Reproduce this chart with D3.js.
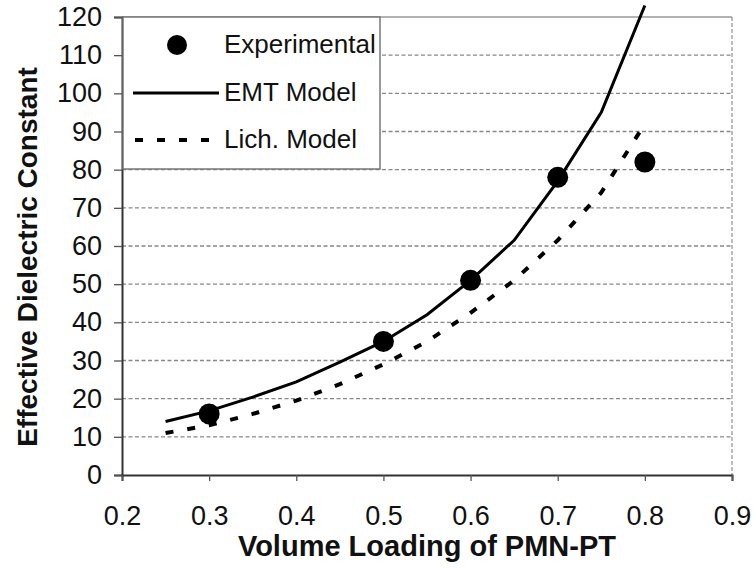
<!DOCTYPE html>
<html>
<head>
<meta charset="utf-8">
<script src="https://cdn.jsdelivr.net/npm/d3@7"></script>
<style>
  html, body { margin: 0; padding: 0; background: #fff; }
  svg { display: block; }
  text { font-family: "Liberation Sans", Arial, sans-serif; fill: #111; }
</style>
</head>
<body>
<svg id="chart" width="754" height="569"></svg>
<script>
// ---- data ----
const expX = [0.3, 0.5, 0.6, 0.7, 0.8];
const expY = [16, 35, 51, 78, 82];

const emtX = [0.25, 0.3, 0.35, 0.4, 0.45, 0.5, 0.55, 0.6, 0.65, 0.7, 0.75, 0.8];
const emtY = [14, 16.8, 20.4, 24.4, 29.6, 35, 42, 51, 61.5, 77, 95, 123];

const lichX = [0.25, 0.3, 0.35, 0.4, 0.45, 0.5, 0.55, 0.6, 0.65, 0.7, 0.75, 0.8];
const lichY = [11, 13, 16, 19.5, 23.8, 29, 35, 42.5, 51, 61.5, 74, 92];

const xTicks = [0.2, 0.3, 0.4, 0.5, 0.6, 0.7, 0.8, 0.9];
const yTicks = [0, 10, 20, 30, 40, 50, 60, 70, 80, 90, 100, 110, 120];
const legendLabels = ["Experimental", "EMT Model", "Lich. Model"];
const xTitle = "Volume Loading of PMN-PT";
const yTitle = "Effective Dielectric Constant";

// ---- layout ----
const W = 754, H = 569;
const m = { left: 122, top: 17, right: 22, bottom: 94 };
const iw = W - m.left - m.right, ih = H - m.top - m.bottom;

const svg = d3.select("#chart");
const g = svg.append("g").attr("transform", `translate(${m.left},${m.top})`);

const x = d3.scaleLinear().domain([0.2, 0.9]).range([0, iw]);
const y = d3.scaleLinear().domain([0, 120]).range([ih, 0]);

// gridlines
g.append("g").selectAll("line")
  .data(yTicks.filter(v => v > 0 && v < 120))
  .join("line")
  .attr("x1", 0).attr("x2", iw)
  .attr("y1", d => y(d)).attr("y2", d => y(d))
  .attr("stroke", "#888").attr("stroke-width", 1.3)
  .attr("stroke-dasharray", "4,2.5");

// top border & right border
g.append("line").attr("x1", 0).attr("x2", iw).attr("y1", 0).attr("y2", 0)
  .attr("stroke", "#999").attr("stroke-width", 1.3);
g.append("line").attr("x1", iw).attr("x2", iw).attr("y1", 0).attr("y2", ih)
  .attr("stroke", "#999").attr("stroke-width", 1.3).attr("stroke-dasharray", "4,2");

// axes
const yAxis = d3.axisLeft(y).tickValues(yTicks).tickSize(8).tickPadding(12).tickFormat(d3.format("d"));
const xAxis = d3.axisBottom(x).tickValues(xTicks).tickSize(6).tickPadding(25).tickFormat(d3.format(".1f"));

const ya = g.append("g").call(yAxis);
const xa = g.append("g").attr("transform", `translate(0,${ih})`).call(xAxis);
[ya, xa].forEach(a => {
  a.select(".domain").attr("stroke", "#333").attr("stroke-width", 2);
  a.selectAll(".tick line").attr("stroke", "#555").attr("stroke-width", 1.3);
  a.selectAll(".tick text").attr("font-size", 27).attr("fill", "#222")
    .attr("font-family", "'Liberation Sans', Arial, sans-serif");
});

// lines
const lineGen = d3.line().x(d => x(d[0])).y(d => y(d[1]));
g.append("path")
  .datum(lichX.map((v, i) => [v, lichY[i]]))
  .attr("d", lineGen).attr("fill", "none")
  .attr("stroke", "#000").attr("stroke-width", 4)
  .attr("stroke-dasharray", "8,14");
g.append("path")
  .datum(emtX.map((v, i) => [v, emtY[i]]))
  .attr("d", lineGen).attr("fill", "none")
  .attr("stroke", "#000").attr("stroke-width", 3);

// markers
g.append("g").selectAll("circle")
  .data(expX.map((v, i) => [v, expY[i]]))
  .join("circle")
  .attr("cx", d => x(d[0])).attr("cy", d => y(d[1]))
  .attr("r", 10.5).attr("fill", "#000");

// legend
const lg = g.append("g").attr("transform", "translate(1,0)");
lg.append("rect").attr("x", 0).attr("y", 0).attr("width", 257).attr("height", 152)
  .attr("fill", "#fff").attr("stroke", "#777").attr("stroke-width", 1.5);
const rows = [28, 76, 123];
lg.append("circle").attr("cx", 54).attr("cy", rows[0]).attr("r", 10).attr("fill", "#000");
lg.append("line").attr("x1", 10).attr("x2", 96).attr("y1", rows[1]).attr("y2", rows[1])
  .attr("stroke", "#000").attr("stroke-width", 3);
lg.append("line").attr("x1", 12).attr("x2", 97).attr("y1", rows[2]).attr("y2", rows[2])
  .attr("stroke", "#000").attr("stroke-width", 4).attr("stroke-dasharray", "8,14");
lg.selectAll("text.lab").data(legendLabels).join("text")
  .attr("class", "lab")
  .attr("x", 101).attr("y", (d, i) => rows[i] + 8)
  .attr("font-size", 26).attr("fill", "#222")
  .text(d => d);

// axis titles
svg.append("text")
  .attr("x", 427).attr("y", 556)
  .attr("text-anchor", "middle").attr("font-size", 29).attr("font-weight", "bold")
  .text(xTitle);
svg.append("text")
  .attr("transform", `translate(37,${m.top + 240}) rotate(-90)`)
  .attr("text-anchor", "middle").attr("font-size", 28).attr("font-weight", "bold")
  .text(yTitle);
</script>
</body>
</html>
